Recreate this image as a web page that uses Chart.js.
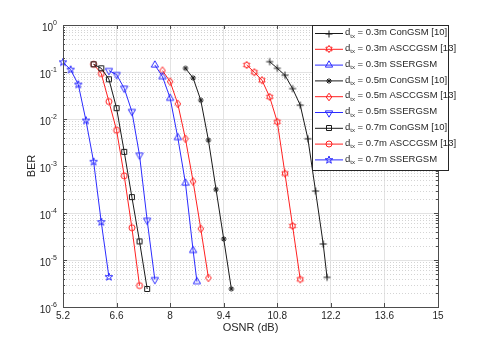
<!DOCTYPE html>
<html>
<head>
<meta charset="utf-8">
<script src="https://cdn.jsdelivr.net/npm/chart.js@4.4.1/dist/chart.umd.min.js"></script>
<style>
  html, body { margin:0; padding:0; background:#fff; }
  #wrap { width:485px; height:346px; }
</style>
</head>
<body>
<div id="wrap"><canvas id="c" width="485" height="346"></canvas></div>
<script>
// axis ticks
const xTicks = [5.2, 6.6, 8, 9.4, 10.8, 12.2, 13.6, 15];
const yExps = [0, -1, -2, -3, -4, -5, -6];

// series (OSNR in dB, BER)
const osnr03Con = [10.6, 10.8, 11.0, 11.2, 11.4, 11.6, 11.8, 12.0, 12.1];
const ber03Con  = [0.166, 0.120, 0.0854, 0.0443, 0.0197, 3.79e-3, 2.93e-4, 2.19e-5, 4.28e-6];
const osnr03Asc = [10.0, 10.2, 10.4, 10.6, 10.8, 11.0, 11.2, 11.4];
const ber03Asc  = [0.141, 0.0989, 0.0669, 0.0295, 8.7e-3, 6.93e-4, 5.29e-5, 3.88e-6];
const osnr03Sse = [7.6, 7.8, 8.0, 8.2, 8.4, 8.6, 8.7];
const ber03Sse  = [0.141, 0.0797, 0.0277, 4.03e-3, 4.34e-4, 1.6e-5, 3.47e-6];
const osnr05Con = [8.4, 8.6, 8.8, 9.0, 9.2, 9.4, 9.6];
const ber05Con  = [0.120, 0.0748, 0.0251, 3.55e-3, 3.17e-4, 2.8e-5, 2.43e-6];
const osnr05Asc = [7.8, 8.0, 8.2, 8.4, 8.6, 8.8, 9.0];
const ber05Asc  = [0.107, 0.0624, 0.021, 3.79e-3, 4.69e-4, 4.63e-5, 4.16e-6];
const osnr05Sse = [6.4, 6.6, 6.8, 7.0, 7.2, 7.4, 7.6];
const ber05Sse  = [0.107, 0.088, 0.0451, 0.0144, 1.70e-3, 6.97e-5, 3.82e-6];
const osnr07Con = [6.0, 6.2, 6.4, 6.6, 6.8, 7.0, 7.2, 7.4];
const ber07Con  = [0.146, 0.12, 0.0701, 0.017, 2.0e-3, 2.18e-4, 2.49e-5, 2.42e-6];
const osnr07Asc = [6.0, 6.2, 6.4, 6.6, 6.8, 7.0, 7.2];
const ber07Asc  = [0.146, 0.0925, 0.0235, 5.78e-3, 6.19e-4, 4.86e-5, 2.85e-6];
const osnr07Sse = [5.2, 5.4, 5.6, 5.8, 6.0, 6.2, 6.4];
const ber07Sse  = [0.161, 0.112, 0.054, 9.27e-3, 1.23e-3, 6.4e-5, 4.35e-6];

const labels = [
  "0.3m ConGSM [10]", "0.3m ASCCGSM [13]", "0.3m SSERGSM",
  "0.5m ConGSM [10]", "0.5m ASCCGSM [13]", "0.5m SSERGSM",
  "0.7m ConGSM [10]", "0.7m ASCCGSM [13]", "0.7m SSERGSM"
];

const BLACK = "#1a1a1a", RED = "#ff2020", BLUE = "#2b2bff";
const FONT = "'Liberation Sans', Arial, sans-serif";

// marker images (MATLAB like, unfilled)
function star(ctx, c, n, ro, ri, rot) {
  ctx.beginPath();
  for (let i = 0; i < 2 * n; i++) {
    const r = i % 2 ? ri : ro;
    const a = rot + i * Math.PI / n;
    const px = c + r * Math.sin(a), py = c - r * Math.cos(a);
    i ? ctx.lineTo(px, py) : ctx.moveTo(px, py);
  }
  ctx.closePath();
}
function marker(kind, color) {
  const cv = document.createElement("canvas");
  cv.width = 12; cv.height = 12;
  const ctx = cv.getContext("2d");
  const c = 6;
  ctx.strokeStyle = color; ctx.lineWidth = 1;
  ctx.beginPath();
  if (kind === "plus") {
    ctx.moveTo(c - 3.5, c); ctx.lineTo(c + 3.5, c); ctx.moveTo(c, c - 3.5); ctx.lineTo(c, c + 3.5);
  } else if (kind === "hex") {
    star(ctx, c, 6, 3.6, 2.1, 0);
  } else if (kind === "tri") {
    star(ctx, c, 3, 4.2, 2.1, 0);
  } else if (kind === "tridown") {
    star(ctx, c, 3, 4.2, 2.1, Math.PI);
  } else if (kind === "ast") {
    ctx.moveTo(c - 2.8, c); ctx.lineTo(c + 2.8, c); ctx.moveTo(c, c - 2.8); ctx.lineTo(c, c + 2.8);
    ctx.moveTo(c - 2, c - 2); ctx.lineTo(c + 2, c + 2); ctx.moveTo(c - 2, c + 2); ctx.lineTo(c + 2, c - 2);
  } else if (kind === "dia") {
    ctx.moveTo(c, c - 3.8); ctx.lineTo(c + 2.8, c); ctx.lineTo(c, c + 3.8); ctx.lineTo(c - 2.8, c); ctx.closePath();
  } else if (kind === "sq") {
    ctx.rect(c - 2.5, c - 2.5, 5, 5);
  } else if (kind === "circ") {
    ctx.arc(c, c, 3, 0, Math.PI * 2);
  } else if (kind === "pent") {
    star(ctx, c, 5, 4, 1.6, 0);
  }
  ctx.stroke();
  return cv;
}

const series = [
  [osnr03Con, ber03Con, BLACK, "plus"],
  [osnr03Asc, ber03Asc, RED, "hex"],
  [osnr03Sse, ber03Sse, BLUE, "tri"],
  [osnr05Con, ber05Con, BLACK, "ast"],
  [osnr05Asc, ber05Asc, RED, "dia"],
  [osnr05Sse, ber05Sse, BLUE, "tridown"],
  [osnr07Con, ber07Con, BLACK, "sq"],
  [osnr07Asc, ber07Asc, RED, "circ"],
  [osnr07Sse, ber07Sse, BLUE, "pent"]
];

const datasets = series.map((s, i) => {
  const img = marker(s[3], s[2]);
  return {
    label: labels[i],
    data: s[0].map((x, k) => ({ x: x, y: s[1][k] })),
    borderColor: s[2],
    borderWidth: 1,
    pointStyle: img,
    _img: img,
    clip: false
  };
});

// grid / axes / labels / legend drawn matlab style
const matlabAxes = {
  id: "matlabAxes",
  beforeDatasetsDraw(chart) {
    const { ctx, chartArea: a, scales: { y } } = chart;
    ctx.save();
    ctx.strokeStyle = "#d4d4d4";
    ctx.lineWidth = 1;
    ctx.setLineDash([1, 2]);
    for (let e = -6; e < 0; e++) {
      for (let k = 2; k <= 9; k++) {
        const py = Math.round(y.getPixelForValue(k * Math.pow(10, e))) + 0.5;
        ctx.beginPath(); ctx.moveTo(a.left, py); ctx.lineTo(a.right, py); ctx.stroke();
      }
    }
    ctx.restore();
  },
  afterDatasetsDraw(chart) {
    const { ctx, chartArea: a, scales: { x, y } } = chart;
    ctx.save();
    // box
    ctx.strokeStyle = "#4d4d4d";
    ctx.lineWidth = 1;
    ctx.strokeRect(a.left + 0.5, a.top + 0.5, a.right - a.left, a.bottom - a.top);
    // ticks
    ctx.beginPath();
    xTicks.forEach(v => {
      const px = Math.round(x.getPixelForValue(v)) + 0.5;
      ctx.moveTo(px, a.bottom); ctx.lineTo(px, a.bottom - 4);
      ctx.moveTo(px, a.top); ctx.lineTo(px, a.top + 4);
    });
    for (let e = -6; e <= 0; e++) {
      const py = Math.round(y.getPixelForValue(Math.pow(10, e))) + 0.5;
      ctx.moveTo(a.left, py); ctx.lineTo(a.left + 4, py);
      ctx.moveTo(a.right, py); ctx.lineTo(a.right - 4, py);
      if (e < 0) for (let k = 2; k <= 9; k++) {
        const pm = Math.round(y.getPixelForValue(k * Math.pow(10, e))) + 0.5;
        ctx.moveTo(a.left, pm); ctx.lineTo(a.left + 2, pm);
        ctx.moveTo(a.right, pm); ctx.lineTo(a.right - 2, pm);
      }
    }
    ctx.stroke();
    // tick labels
    ctx.fillStyle = "#262626";
    ctx.font = "10px " + FONT;
    ctx.textAlign = "center"; ctx.textBaseline = "top";
    xTicks.forEach(v => ctx.fillText(String(v), x.getPixelForValue(v), a.bottom + 4));
    yExps.forEach(e => {
      const py = y.getPixelForValue(Math.pow(10, e));
      const sup = String(e);
      ctx.font = "7px " + FONT;
      const sw = ctx.measureText(sup).width;
      ctx.textAlign = "left"; ctx.textBaseline = "alphabetic";
      ctx.fillText(sup, a.left - 6 - sw, py - 0.5);
      ctx.font = "10px " + FONT;
      ctx.textAlign = "right";
      ctx.fillText("10", a.left - 6 - sw, py + 5.5);
    });
    // axis titles
    ctx.font = "11px " + FONT;
    ctx.textAlign = "center"; ctx.textBaseline = "middle";
    ctx.fillText("OSNR (dB)", (a.left + a.right) / 2, 328);
    ctx.translate(32, (a.top + a.bottom) / 2);
    ctx.rotate(-Math.PI / 2);
    ctx.fillText("BER", 0, 0);
    ctx.restore();

    // legend
    ctx.save();
    const lx = 312.5, ly = 25.5, lw = 136, lh = 145;
    ctx.fillStyle = "#fff";
    ctx.fillRect(lx, ly, lw, lh);
    ctx.strokeStyle = "#262626";
    ctx.lineWidth = 1;
    ctx.strokeRect(lx, ly, lw, lh);
    chart.data.datasets.forEach((ds, i) => {
      const ry = 33.5 + i * 15.8;
      ctx.strokeStyle = ds.borderColor;
      ctx.beginPath(); ctx.moveTo(315, ry); ctx.lineTo(343, ry); ctx.stroke();
      ctx.drawImage(ds._img, 329 - 6, Math.round(ry) - 6);
      ctx.fillStyle = "#262626";
      ctx.textAlign = "left"; ctx.textBaseline = "middle";
      ctx.font = "9.5px " + FONT;
      let tx = 345;
      ctx.fillText("d", tx, ry - 1);
      tx += ctx.measureText("d").width;
      ctx.font = "6px " + FONT;
      ctx.fillText("tx", tx, ry + 2.5);
      tx += ctx.measureText("tx").width;
      ctx.font = "9.5px " + FONT;
      ctx.fillText(" = " + ds.label, tx, ry - 1);
    });
    ctx.restore();
  }
};

new Chart(document.getElementById("c"), {
  type: "line",
  data: { datasets },
  options: {
    responsive: false,
    animation: false,
    layout: { padding: { left: 63, right: 47, top: 25, bottom: 39 } },
    plugins: { legend: { display: false }, tooltip: { enabled: false } },
    elements: { line: { tension: 0 }, point: { radius: 4 } },
    scales: {
      x: {
        type: "linear", min: 5.2, max: 15,
        afterBuildTicks: s => { s.ticks = xTicks.map(v => ({ value: v })); },
        ticks: { display: false },
        grid: { color: "#e3e3e3", drawTicks: false },
        border: { display: false }
      },
      y: {
        type: "logarithmic", min: 1e-6, max: 1,
        afterBuildTicks: s => { s.ticks = yExps.map(e => ({ value: Math.pow(10, e) })); },
        ticks: { display: false },
        grid: { color: "#e3e3e3", drawTicks: false },
        border: { display: false }
      }
    }
  },
  plugins: [matlabAxes]
});
</script>
</body>
</html>
